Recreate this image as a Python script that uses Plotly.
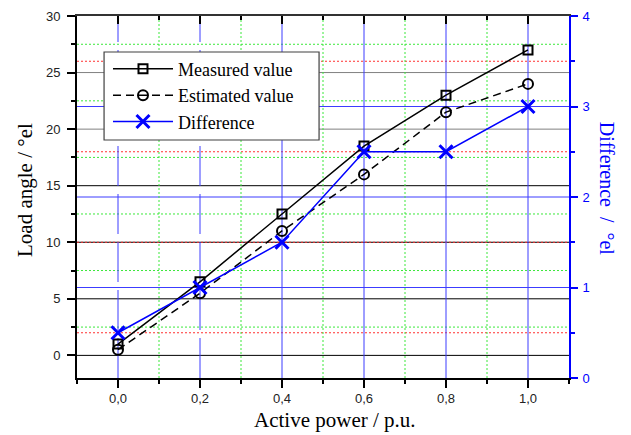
import numpy as np
import plotly.graph_objects as go

# Measurement data
active_power = [0.0, 0.2, 0.4, 0.6, 0.8, 1.0]
measured_angle = [1.0, 6.5, 12.5, 18.5, 23.0, 27.0]
estimated_angle = [0.5, 5.5, 11.0, 16.0, 21.5, 24.0]
angle_difference = [0.5, 1.0, 1.5, 2.5, 2.5, 3.0]

series_names = ["Measured value", "Estimated value", "Difference"]

# Axis ranges and steps
x_range = [-0.1, 1.1]
angle_range = [-2, 30]
diff_range = [0, 4]
x_step, angle_step, diff_step = 0.2, 5, 1

SERIF = "Liberation Serif, Times New Roman, serif"
SANS = "Liberation Sans, Arial, sans-serif"
BLUE = "#0000ff"
GRID_BLUE = "#3c3cff"
GREEN = "#3be83b"
RED = "#ff3030"
DOT = "2px,2px"

fig = go.Figure()

fig.add_trace(go.Scatter(
    x=active_power, y=measured_angle, name=series_names[0], mode="lines+markers",
    line=dict(color="black", width=1.5),
    marker=dict(symbol="square-open", size=9, color="black", line=dict(width=2, color="black")),
))
fig.add_trace(go.Scatter(
    x=active_power, y=estimated_angle, name=series_names[1], mode="lines+markers",
    line=dict(color="black", width=1.5, dash="8px,5px"),
    marker=dict(symbol="circle-open", size=10, color="black", line=dict(width=2, color="black")),
))
fig.add_trace(go.Scatter(
    x=active_power, y=angle_difference, name=series_names[2], mode="lines+markers",
    yaxis="y2",
    line=dict(color=BLUE, width=1.5),
    marker=dict(symbol="x-thin-open", size=13, color=BLUE, line=dict(width=3, color=BLUE)),
))
# invisible carrier so the top frame axis is drawn
fig.add_trace(go.Scatter(
    x=active_power, y=measured_angle, xaxis="x2", mode="lines",
    line=dict(width=0), opacity=0, showlegend=False, hoverinfo="skip",
))

# Grid lines drawn as shapes so each can carry its own style
shapes = []


def hline(y, yref, color, dash="solid", width=1):
    shapes.append(dict(type="line", xref="paper", x0=0, x1=1, yref=yref, y0=y, y1=y,
                       layer="below", line=dict(color=color, width=width, dash=dash)))


def vline(x, color, dash="solid", width=1):
    shapes.append(dict(type="line", yref="paper", y0=0, y1=1, xref="x", x0=x, x1=x,
                       layer="below", line=dict(color=color, width=width, dash=dash)))


# left axis: major lines black/grey, minor lines green dotted
for v in np.arange(0, angle_range[1], angle_step):
    hline(v, "y", "#808080" if v >= 20 else "black")
for v in np.arange(angle_step / 2, angle_range[1], angle_step):
    hline(v, "y", GREEN, DOT)
# right axis: major lines blue, minor lines red dotted
for v in np.arange(diff_step, diff_range[1], diff_step):
    hline(v, "y2", GRID_BLUE)
for v in np.arange(diff_step / 2, diff_range[1], diff_step):
    hline(v, "y2", RED, DOT)
# x axis: major lines blue, minor lines green dotted
for v in np.arange(0, 1.0001, x_step):
    vline(v, GRID_BLUE, "40px,8px" if v < 0.3 else "solid")
for v in np.arange(x_step / 2, 1.0, x_step):
    vline(v, GREEN, DOT)

# framed white panel behind the legend entries
legend_box = dict(x0=0.055, x1=0.492, y0=0.6575, y1=0.9006)
shapes.append(dict(type="rect", xref="paper", yref="paper", layer="above",
                   fillcolor="white", line=dict(color="#404040", width=1.2), **legend_box))

tick_font = dict(family=SANS, size=13, color="#222222")

# Axis titles placed as annotations
annotations = [
    dict(text="Active power / p.u.", xref="paper", yref="paper", x=0.525, y=-0.116,
         xanchor="center", yanchor="middle", showarrow=False,
         font=dict(family=SERIF, size=21, color="black")),
    dict(text="Load angle / °el", xref="paper", yref="paper", x=-0.106, y=0.519,
         xanchor="center", yanchor="middle", showarrow=False, textangle=-90,
         font=dict(family=SERIF, size=21, color="black")),
    dict(text="Difference\u00a0\u00a0/\u00a0\u00a0°el", xref="paper", yref="paper",
         x=1.077, y=0.523, xanchor="center", yanchor="middle", showarrow=False,
         textangle=90, font=dict(family=SERIF, size=20, color=BLUE)),
]

fig.update_layout(
    width=631, height=435,
    margin=dict(l=77, r=62, t=16, b=57),
    paper_bgcolor="white", plot_bgcolor="white",
    separators=",.",
    shapes=shapes,
    annotations=annotations,
    showlegend=True,
    legend=dict(
        x=legend_box["x0"] + 0.008, y=legend_box["y1"] + 0.004, xanchor="left", yanchor="top",
        bgcolor="rgba(0,0,0,0)", borderwidth=0,
        font=dict(family=SERIF, size=18, color="black"),
        itemwidth=60, tracegroupgap=0,
    ),
    xaxis=dict(
        range=x_range, tick0=0, dtick=x_step, tickformat=".1f",
        ticks="outside", ticklen=8, tickwidth=1.5, tickcolor="black",
        showline=True, linewidth=2, linecolor="black",
        showgrid=False, zeroline=False, automargin=False,
        tickfont=tick_font, ticklabelstandoff=-1,
        minor=dict(tick0=0, dtick=x_step / 2, ticks="outside", ticklen=4,
                   tickwidth=1.5, tickcolor="black", showgrid=False),
    ),
    xaxis2=dict(
        range=x_range, overlaying="x", side="top", tick0=0, dtick=x_step,
        ticks="inside", ticklen=8, tickwidth=1.5, tickcolor="black",
        showline=True, linewidth=2, linecolor="#333333",
        showticklabels=False, showgrid=False, zeroline=False,
        minor=dict(tick0=0, dtick=x_step / 2, ticks="inside", ticklen=4,
                   tickwidth=1.5, tickcolor="black", showgrid=False),
    ),
    yaxis=dict(
        range=angle_range, tick0=0, dtick=angle_step,
        ticks="outside", ticklen=8, tickwidth=1.5, tickcolor="black",
        showline=True, linewidth=2, linecolor="black",
        showgrid=False, zeroline=False, automargin=False,
        tickfont=tick_font, ticklabelstandoff=4,
        minor=dict(tick0=0, dtick=angle_step / 2, ticks="outside", ticklen=4,
                   tickwidth=1.5, tickcolor="black", showgrid=False),
    ),
    yaxis2=dict(
        range=diff_range, overlaying="y", side="right", tick0=0, dtick=diff_step,
        ticks="outside", ticklen=7, tickwidth=1.5, tickcolor=BLUE,
        showline=True, linewidth=2, linecolor=BLUE,
        showgrid=False, zeroline=False, automargin=False,
        tickfont=dict(family=SANS, size=13, color=BLUE), ticklabelstandoff=2,
        minor=dict(tick0=0, dtick=diff_step / 2, ticks="outside", ticklen=4,
                   tickwidth=1.5, tickcolor=BLUE, showgrid=False),
    ),
)

fig.write_html("out.html")
